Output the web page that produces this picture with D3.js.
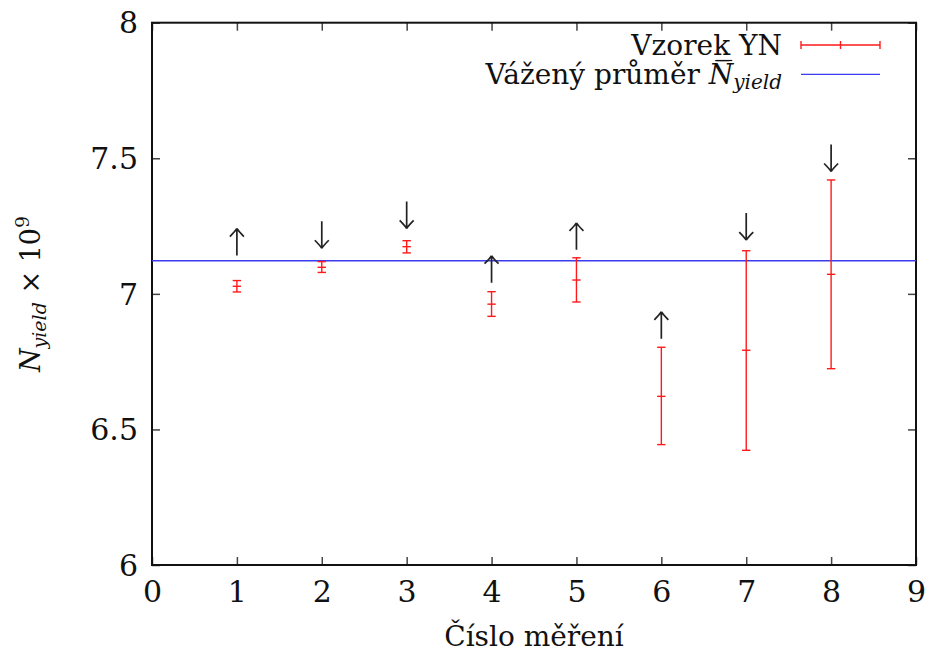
<!DOCTYPE html>
<html>
<head>
<meta charset="utf-8">
<script src="https://cdn.jsdelivr.net/npm/d3@7"></script>
<style>
  body { margin: 0; background: #fff; }
  svg text { fill: #111; }
</style>
</head>
<body>
<div id="chart"></div>
<script>
// measurement index and N_yield (x 10^9) with lower/upper error bounds
const measurement = [1, 2, 3, 4, 5, 6, 7, 8];
const yieldValue = [7.028, 7.098, 7.174, 6.962, 7.051, 6.622, 6.792, 7.072];
const yieldLow = [7.007, 7.079, 7.151, 6.917, 6.970, 6.444, 6.423, 6.724];
const yieldHigh = [7.049, 7.119, 7.196, 7.008, 7.133, 6.803, 7.159, 7.420];
// arrow labels (direction and centre in data units)
const arrowDir = ['up', 'down', 'down', 'up', 'up', 'up', 'down', 'down'];
const arrowY = [7.191, 7.218, 7.291, 7.091, 7.212, 6.884, 7.248, 7.501];
// weighted mean
const weightedMean = 7.122;
const xTicks = [0, 1, 2, 3, 4, 5, 6, 7, 8, 9];
const yTicks = [6, 6.5, 7, 7.5, 8];

const width = 931, height = 653;
const margin = {top: 22.7, right: 15, bottom: 88, left: 152};
const fontSize = 30;
const serif = 'DejaVu Serif';

const svg = d3.select('#chart').append('svg')
    .attr('width', width)
    .attr('height', height)
    .attr('font-family', serif);

const x = d3.scaleLinear().domain([0, 9]).range([margin.left, width - margin.right]);
const y = d3.scaleLinear().domain([6, 8]).range([height - margin.bottom, margin.top]);

// axes: inward ticks on all four sides
const tickLen = 8;
const axB = svg.append('g')
    .attr('transform', 'translate(0,' + y(6) + ')')
    .call(d3.axisBottom(x).tickValues(xTicks).tickSizeInner(-tickLen).tickSizeOuter(0).tickPadding(16).tickFormat(d3.format('d')));
const axT = svg.append('g')
    .attr('transform', 'translate(0,' + y(8) + ')')
    .call(d3.axisTop(x).tickValues(xTicks).tickSizeInner(-tickLen).tickSizeOuter(0).tickFormat(''));
const axL = svg.append('g')
    .attr('transform', 'translate(' + x(0) + ',0)')
    .call(d3.axisLeft(y).tickValues(yTicks).tickSizeInner(-tickLen).tickSizeOuter(0).tickPadding(14).tickFormat(d => d === 6.5 || d === 7.5 ? d : d3.format('d')(d)));
const axR = svg.append('g')
    .attr('transform', 'translate(' + x(9) + ',0)')
    .call(d3.axisRight(y).tickValues(yTicks).tickSizeInner(-tickLen).tickSizeOuter(0).tickFormat(''));

[axB, axT, axL, axR].forEach(g => {
    g.attr('font-family', serif);
    g.select('.domain').remove();
    g.selectAll('.tick line').attr('stroke', '#444').attr('stroke-width', 1.5);
    g.selectAll('.tick text')
        .style('font-size', fontSize + 'px')
        .attr('fill', '#111');
});
axL.selectAll('.tick text').attr('dy', '0.34em');
axL.selectAll('.tick text').attr('x', -14);

// frame
svg.append('rect')
    .attr('x', x(0)).attr('y', y(8))
    .attr('width', x(9) - x(0)).attr('height', y(6) - y(8))
    .attr('fill', 'none').attr('stroke', '#111').attr('stroke-width', 2);

// weighted mean line
svg.append('line')
    .attr('x1', x(0)).attr('x2', x(9))
    .attr('y1', y(weightedMean)).attr('y2', y(weightedMean))
    .attr('stroke', '#3b3bf0').attr('stroke-width', 1.3);

// error bars
const capW = 4.2;
const bars = svg.append('g').attr('stroke', '#ff1a1a').attr('stroke-width', 1.4);
measurement.forEach((m, i) => {
    const cx = x(m);
    bars.append('line').attr('x1', cx).attr('x2', cx).attr('y1', y(yieldLow[i])).attr('y2', y(yieldHigh[i]));
    bars.append('line').attr('x1', cx - capW).attr('x2', cx + capW).attr('y1', y(yieldLow[i])).attr('y2', y(yieldLow[i]));
    bars.append('line').attr('x1', cx - capW).attr('x2', cx + capW).attr('y1', y(yieldHigh[i])).attr('y2', y(yieldHigh[i]));
    bars.append('line').attr('x1', cx - capW).attr('x2', cx + capW).attr('y1', y(yieldValue[i])).attr('y2', y(yieldValue[i]));
});

// arrows (like LaTeX \uparrow / \downarrow)
const arrowLen = 27, headW = 7, headH = 8;
const arrows = svg.append('g').attr('stroke', '#222').attr('stroke-width', 1.7).attr('fill', 'none');
measurement.forEach((m, i) => {
    const cx = x(m), cy = y(arrowY[i]);
    const s = arrowDir[i] === 'up' ? -1 : 1;
    const tip = cy + s * arrowLen / 2, tail = cy - s * arrowLen / 2;
    arrows.append('path')
        .attr('d', `M${cx},${tail}L${cx},${tip}` +
            `M${cx - headW},${tip - s * headH}Q${cx - 2},${tip - s * 3} ${cx},${tip}` +
            `M${cx + headW},${tip - s * headH}Q${cx + 2},${tip - s * 3} ${cx},${tip}`);
});

// axis labels
svg.append('text')
    .attr('x', (x(0) + x(9)) / 2).attr('y', 646)
    .attr('text-anchor', 'middle')
    .style('font-size', '28px')
    .text('Číslo měření');

const yl = svg.append('text')
    .attr('transform', 'translate(40,294) rotate(-90)')
    .attr('text-anchor', 'middle')
    .style('font-size', '27px');
yl.append('tspan').style('font-style', 'italic').text('N');
yl.append('tspan').style('font-style', 'italic').style('font-size', '19px').attr('dy', 6).text('yield');
yl.append('tspan').attr('dy', -6).text(' × 10');
yl.append('tspan').style('font-size', '19px').attr('dy', -11).text('9');

// legend
const legTextX = 782;
const leg1Y = 45, leg2Y = 74.3;
svg.append('text')
    .attr('x', legTextX).attr('y', leg1Y + 10)
    .attr('text-anchor', 'end')
    .style('font-size', '28px')
    .text('Vzorek\u0332 YN');

const l2 = svg.append('text')
    .attr('x', legTextX).attr('y', leg2Y + 10)
    .attr('text-anchor', 'end')
    .style('font-size', '28px');
l2.append('tspan').text('Vážený průměr ');
l2.append('tspan').style('font-style', 'italic').text('N');
l2.append('tspan').style('font-style', 'italic').style('font-size', '20px').attr('dy', 5).text('yield');
// bar over N
const nBox = l2.node().getExtentOfChar(14);
svg.append('line')
    .attr('x1', nBox.x + 7).attr('x2', nBox.x + nBox.width - 1)
    .attr('y1', 60.5).attr('y2', 60.5)
    .attr('stroke', '#111').attr('stroke-width', 1.2);

const lx1 = 801, lx2 = 880;
const lr = svg.append('g').attr('stroke', '#ff1a1a').attr('stroke-width', 1.4);
lr.append('line').attr('x1', lx1).attr('x2', lx2).attr('y1', leg1Y).attr('y2', leg1Y);
[lx1, lx2].forEach(px => lr.append('line').attr('x1', px).attr('x2', px).attr('y1', leg1Y - 4).attr('y2', leg1Y + 4));
lr.append('line').attr('x1', (lx1 + lx2) / 2).attr('x2', (lx1 + lx2) / 2).attr('y1', leg1Y - 4).attr('y2', leg1Y + 4);
svg.append('line')
    .attr('x1', lx1).attr('x2', lx2).attr('y1', leg2Y).attr('y2', leg2Y)
    .attr('stroke', '#3b3bf0').attr('stroke-width', 1.3);
</script>
</body>
</html>
